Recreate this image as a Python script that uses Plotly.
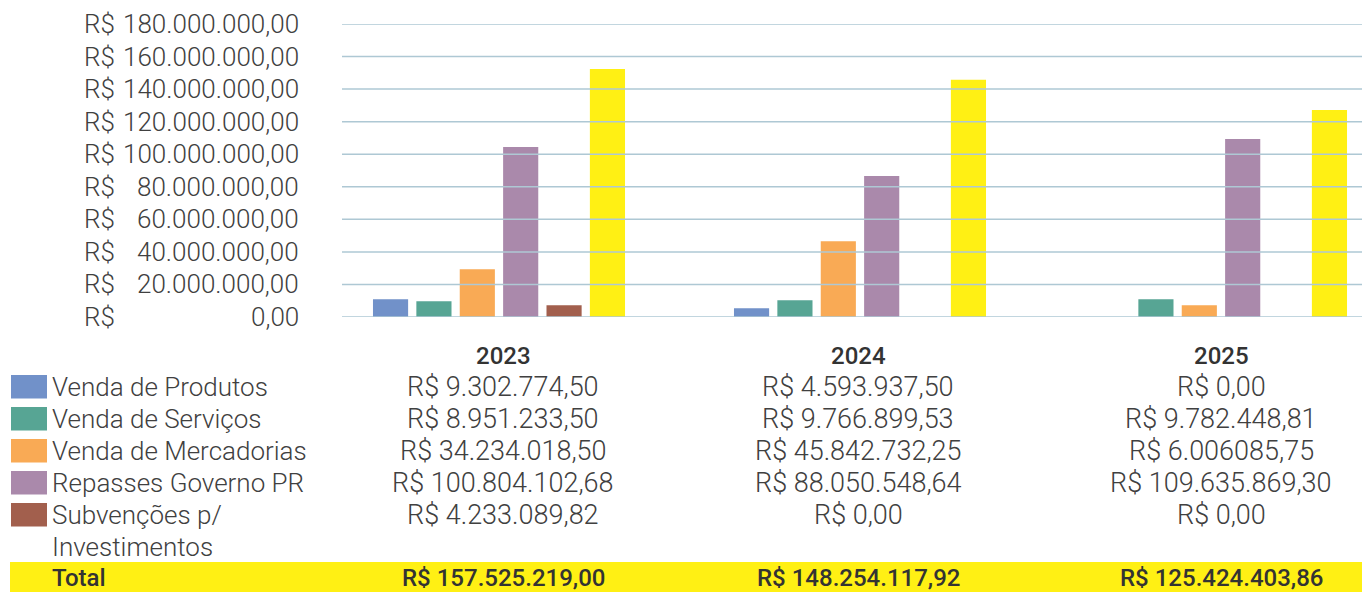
import plotly.graph_objects as go

# ---------------- data ----------------
years = ["2023", "2024", "2025"]
series_names = ["Venda de Produtos", "Venda de Serviços", "Venda de Mercadorias",
                "Repasses Governo PR", "Subvenções p/ Investimentos", "Total"]
produtos = [10.9e6, 5.4e6, 0]
servicos = [9.7e6, 10.3e6, 10.9e6]
mercadorias = [29.4e6, 46.6e6, 7.2e6]
repasses = [104.4e6, 86.6e6, 109.4e6]
subvencoes = [7.2e6, 0, 0]
total = [152.4e6, 145.7e6, 127.2e6]

table_produtos = ["R$ 9.302.774,50", "R$ 4.593.937,50", "R$ 0,00"]
table_servicos = ["R$ 8.951.233,50", "R$ 9.766.899,53", "R$ 9.782.448,81"]
table_mercadorias = ["R$ 34.234.018,50", "R$ 45.842.732,25", "R$ 6.006085,75"]
table_repasses = ["R$ 100.804.102,68", "R$ 88.050.548,64", "R$ 109.635.869,30"]
table_subvencoes = ["R$ 4.233.089,82", "R$ 0,00", "R$ 0,00"]
table_total = ["R$ 157.525.219,00", "R$ 148.254.117,92", "R$ 125.424.403,86"]

row_labels = ["Venda de Produtos", "Venda de Serviços", "Venda de Mercadorias",
              "Repasses Governo PR", "Subvenções p/"]
y_ticks = [0, 20e6, 40e6, 60e6, 80e6, 100e6, 120e6, 140e6, 160e6, 180e6]

# ---------------- style ----------------
colors = ["#7191C9", "#57A594", "#F9AA55", "#AA89AB", "#A25F4D", "#FFF014"]
TXT = "#404040"
FONT = "Roboto"
W, H = 1362, 592
L, R, T, B = 342, 1362, 24, 317
col_shift = [4, -2, 0]


def px(x):
    return (x - L) / (R - L)


def py(y):
    return (B - y) / (B - T)


def br_fmt(v):
    s = f"{v:,.2f}"
    return s.replace(",", "X").replace(".", ",").replace("X", ".")


x_idx = list(range(len(years)))
values = [produtos, servicos, mercadorias, repasses, subvencoes, total]

fig = go.Figure()
for name, vals, col in zip(series_names, values, colors):
    fig.add_trace(go.Bar(x=x_idx, y=vals, name=name, marker=dict(color=col, line=dict(width=0)),
                         hoverinfo="skip"))

shapes = []
annotations = []
light = dict(family=FONT, size=27, color=TXT, weight=300)
light_axis = dict(family=FONT, size=26, color=TXT, weight=300)
light_lab = dict(family=FONT, size=26, color=TXT, weight=300)
bold = dict(family=FONT, size=24, color="#333333", weight=500)

# gridlines above bars
for v in y_ticks:
    shapes.append(dict(type="line", xref="paper", yref="y", x0=0, x1=1, y0=v, y1=v,
                       line=dict(color="#AEC8D4", width=1.5), layer="above"))
    annotations.append(dict(xref="paper", yref="y", x=px(82), y=v, text="R$", showarrow=False,
                            xanchor="left", yanchor="middle", font=light_axis))
    annotations.append(dict(xref="paper", yref="y", x=px(301), y=v, text=br_fmt(v), showarrow=False,
                            xanchor="right", yanchor="middle", font=light_axis))

# table: total band
shapes.append(dict(type="rect", xref="paper", yref="paper", x0=px(10), x1=px(1362),
                   y0=py(592), y1=py(562), fillcolor="#FFF014", line=dict(width=0), layer="below"))

# headers
for i, yr in enumerate(years):
    annotations.append(dict(xref="x", yref="paper", x=i, y=py(356), text=yr, showarrow=False,
                            xanchor="center", yanchor="middle", font=bold, xshift=col_shift[i]))

table_rows = [table_produtos, table_servicos, table_mercadorias, table_repasses, table_subvencoes]
row_y = [387, 419, 451, 483, 515]
for k, (lab, row, ry) in enumerate(zip(row_labels, table_rows, row_y)):
    shapes.append(dict(type="rect", xref="paper", yref="paper", x0=px(11), x1=px(47),
                       y0=py(ry + 11.5), y1=py(ry - 12), fillcolor=colors[k],
                       line=dict(width=0)))
    annotations.append(dict(xref="paper", yref="paper", x=px(50), y=py(ry), text=lab, showarrow=False,
                            xanchor="left", yanchor="middle", font=light_lab))
    for i, txt in enumerate(row):
        annotations.append(dict(xref="x", yref="paper", x=i, y=py(ry), text=txt, showarrow=False,
                                xanchor="center", yanchor="middle", font=light,
                                xshift=col_shift[i]))

annotations.append(dict(xref="paper", yref="paper", x=px(50), y=py(547), text="Investimentos",
                        showarrow=False, xanchor="left", yanchor="middle", font=light_lab))

annotations.append(dict(xref="paper", yref="paper", x=px(50), y=py(578), text="Total",
                        showarrow=False, xanchor="left", yanchor="middle", font=bold))
for i, txt in enumerate(table_total):
    annotations.append(dict(xref="x", yref="paper", x=i, y=py(578), text=txt, showarrow=False,
                            xanchor="center", yanchor="middle", font=bold, xshift=col_shift[i]))

x_left = (L - 499) / 361
x_right = (R - 499) / 361

fig.update_layout(
    width=W, height=H,
    margin=dict(l=L, r=W - R, t=T, b=H - B, pad=0),
    paper_bgcolor="white", plot_bgcolor="white",
    barmode="group", bargap=0.279, bargroupgap=0.19,
    showlegend=False,
    xaxis=dict(range=[x_left, x_right], showticklabels=False, showgrid=False, zeroline=False,
               showline=False, ticks=""),
    yaxis=dict(range=[0, 180e6], tickvals=y_ticks, showticklabels=False, showgrid=False,
               zeroline=False, showline=False, ticks=""),
    shapes=shapes,
    annotations=annotations,
    font=dict(family=FONT, color=TXT),
)

fig.write_html("out.html", config={"displayModeBar": False},
               post_script="document.body.style.margin='0px';document.body.style.overflow='hidden';")
